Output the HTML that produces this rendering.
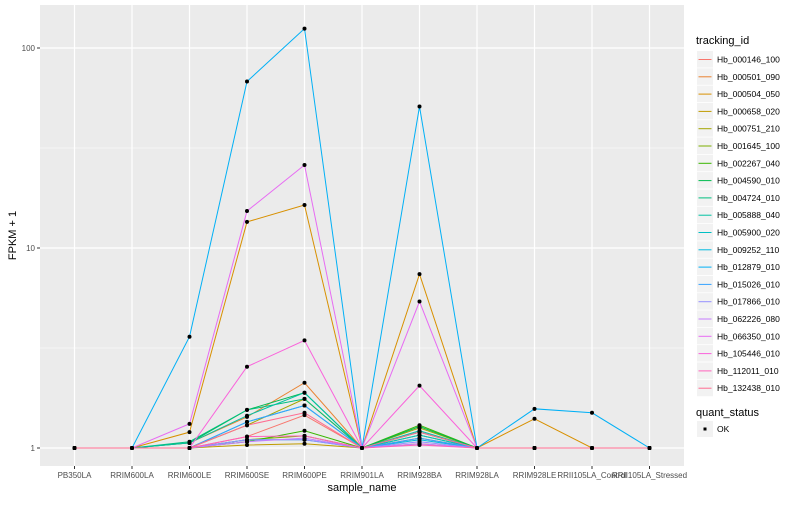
<!DOCTYPE html>
<html><head><meta charset="utf-8"><style>
body{margin:0;background:#fff;font-family:"Liberation Sans",Arial,sans-serif}
svg text{font-family:"Liberation Sans",Arial,sans-serif}
</style></head><body>
<svg id="c" width="800" height="500" xmlns="http://www.w3.org/2000/svg"></svg>
<script>
const categories=["PB350LA","RRIM600LA","RRIM600LE","RRIM600SE","RRIM600PE","RRIM901LA","RRIM928BA","RRIM928LA","RRIM928LE","RRII105LA_Control","RRII105LA_Stressed"];
const seriesNames=["Hb_000146_100","Hb_000501_090","Hb_000504_050","Hb_000658_020","Hb_000751_210","Hb_001645_100","Hb_002267_040","Hb_004590_010","Hb_004724_010","Hb_005888_040","Hb_005900_020","Hb_009252_110","Hb_012879_010","Hb_015026_010","Hb_017866_010","Hb_062226_080","Hb_066350_010","Hb_105446_010","Hb_112011_010","Hb_132438_010"];
const colors=["#F8766D","#EA8331","#D89000","#C09B00","#A3A500","#7CAE00","#39B600","#00BB4E","#00BF7D","#00C1A3","#00BFC4","#00BAE0","#00B0F6","#35A2FF","#9590FF","#C77CFF","#E76BF3","#FA62DB","#FF62BC","#FF6C91"];
const s0=[1,1,1,1.14,1.46,1,1.2,1,1,1,1];
const s1=[1,1,1.06,1.43,2.12,1,1.12,1,1,1,1];
const s2=[1,1,1.2,13.5,16.4,1,7.4,1,1.4,1,1];
const s3=[1,1,1,1.035,1.05,1,1.05,1,1,1,1];
const s4=[1,1,1,1.3,1.76,1,1.26,1,1,1,1];
const s5=[1,1,1,1.1,1.15,1,1.16,1,1,1,1];
const s6=[1,1,1,1.075,1.22,1,1.3,1,1,1,1];
const s7=[1,1,1.06,1.55,1.89,1,1.28,1,1,1,1];
const s8=[1,1,1.075,1.55,1.76,1,1.2,1,1,1,1];
const s9=[1,1,1.06,1.45,1.89,1,1.22,1,1,1,1];
const s10=[1,1,1,1.35,1.63,1,1.16,1,1,1,1];
const s11=[1,1,1,1.1,1.1,1,1.1,1,1,1,1];
const s12=[1,1,3.6,68,125,1,51,1,1.57,1.5,1];
const s13=[1,1,1,1.35,1.63,1,1.12,1,1,1,1];
const s14=[1,1,1,1.1,1.1,1,1.075,1,1,1,1];
const s15=[1,1,1,1.075,1.12,1,1.05,1,1,1,1];
const s16=[1,1,1.32,15.3,26,1,5.4,1,1,1,1];
const s17=[1,1,1,2.55,3.45,1,2.05,1,1,1,1];
const s18=[1,1,1,1.14,1.15,1,1.035,1,1,1,1];
const s19=[1,1,1,1.3,1.5,1,1.2,1,1,1,1];
const seriesValues=[s0,s1,s2,s3,s4,s5,s6,s7,s8,s9,s10,s11,s12,s13,s14,s15,s16,s17,s18,s19];
const yTicks=[1,10,100];
const yTickLabels=["1","10","100"];

const svg=document.getElementById('c');
const NS="http://www.w3.org/2000/svg";
function el(t,a,p){const e=document.createElementNS(NS,t);for(const k in a)e.setAttribute(k,a[k]);(p||svg).appendChild(e);return e;}
const PL=40,PR=684,PT=5,PB=466;
const step=(PR-PL)/(categories.length+0.2);
function xs(i){return PL+step*(0.6+i);}
function ys(v){return 448-200*Math.log10(v);}

const panel=el('rect',{x:PL,y:PT,width:PR-PL,height:PB-PT,fill:'#EBEBEB'});


[Math.sqrt(10),Math.sqrt(1000)].forEach(v=>{
  const g=el('line',{x1:PL,x2:PR,y1:ys(v),y2:ys(v),stroke:'#fff','stroke-width':0.6});
  
  
});
yTicks.forEach((v,i)=>{
  const g=el('line',{x1:PL,x2:PR,y1:ys(v),y2:ys(v),stroke:'#fff','stroke-width':1.2});
  
  
  const tk=el('line',{x1:PL-3,x2:PL,y1:ys(v),y2:ys(v),stroke:'#333','stroke-width':1});
  
  
  const t=el('text',{x:PL-5,y:ys(v)+3,'text-anchor':'end','font-size':8,fill:'#4D4D4D'});
  t.textContent=yTickLabels[i];
  
  
});
categories.forEach((c,i)=>{
  const g=el('line',{x1:xs(i),x2:xs(i),y1:PT,y2:PB,stroke:'#fff','stroke-width':1.2});
  
  
  const tk=el('line',{x1:xs(i),x2:xs(i),y1:PB,y2:PB+3,stroke:'#333','stroke-width':1});
  
  
  const t=el('text',{x:xs(i),y:PB+12,'text-anchor':'middle','font-size':8,fill:'#4D4D4D'});
  t.textContent=c;
  
  
});
seriesValues.forEach((vals,si)=>{
  const p=el('polyline',{points:vals.map((v,i)=>xs(i)+','+ys(v)).join(' '),fill:'none',stroke:colors[si],'stroke-width':1});
  
  
});
seriesValues.forEach((vals,si)=>{
  vals.forEach((v,i)=>{
    const c=el('circle',{cx:xs(i),cy:ys(v),r:2,fill:'#000'});
    
    
  });
});
const xt=el('text',{x:(PL+PR)/2,y:491,'text-anchor':'middle','font-size':11,fill:'#000'});
xt.textContent='sample_name';


const yt=el('text',{x:16,y:(PT+PB)/2,'text-anchor':'middle','font-size':11,fill:'#000',transform:'rotate(-90 16 '+((PT+PB)/2)+')'});
yt.textContent='FPKM + 1';


const lt=el('text',{x:696,y:44,'font-size':11,fill:'#000'});
lt.textContent='tracking_id';


seriesNames.forEach((n,i)=>{
  const y=51+i*17.3;
  const g=el('g',{});
  
  
  el('rect',{x:697,y:y,width:16,height:16.5,fill:'#F2F2F2'},g);
  el('line',{x1:698.5,x2:711.5,y1:y+8.5,y2:y+8.5,stroke:colors[i],'stroke-width':1},g);
  const t=el('text',{x:717,y:y+11.5,'font-size':8.5,fill:'#000'},g);
  t.textContent=n;
});
const qt=el('text',{x:696,y:416,'font-size':11,fill:'#000'});
qt.textContent='quant_status';


const qg=el('g',{});


el('rect',{x:697,y:421,width:16,height:16,fill:'#F2F2F2'},qg);
el('rect',{x:703.5,y:427.5,width:3,height:3,fill:'#000'},qg);
const ok=el('text',{x:717,y:432,'font-size':8.5,fill:'#000'},qg);
ok.textContent='OK';
</script>
</body></html>
